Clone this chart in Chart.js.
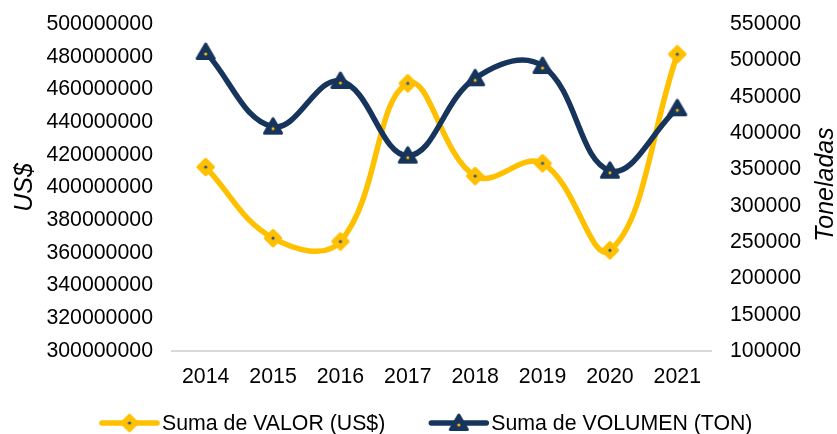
<!DOCTYPE html>
<html>
<head>
<meta charset="utf-8">
<script src="https://cdn.jsdelivr.net/npm/chart.js@4.4.1/dist/chart.umd.min.js"></script>
<style>
    html, body { margin: 0; padding: 0; background: #fff; }
</style>
</head>
<body>
<canvas id="chartCanvas" width="837" height="434"></canvas>
<script>
// -------------------------------------------------------------
// DATOS
// -------------------------------------------------------------
const years = ["2014", "2015", "2016", "2017", "2018", "2019", "2020", "2021"]
const valorUSD = [412500000, 369000000, 367000000, 463700000, 407000000, 414800000, 361600000, 481500000]
const volumenTon = [511500, 408700, 471600, 368800, 475300, 492200, 348100, 434000]

const labelValor = "Suma de VALOR (US$)"
const labelVolumen = "Suma de VOLUMEN (TON)"
const titleLeft = "US$"
const titleRight = "Toneladas"

// ejes: min, max y paso
const leftAxis = [300000000, 500000000, 20000000]
const rightAxis = [100000, 550000, 50000]

// -------------------------------------------------------------
// estilos
// -------------------------------------------------------------
const YELLOW = "#FFC000"
const NAVY = "#17355C"
const FONT = "'Liberation Sans', Arial, sans-serif"
const TICK_SIZE = 21.3

// marcador rombo amarillo con punto azul en el centro
function makeDiamond() {
    const c = document.createElement("canvas")
    c.width = 22; c.height = 22
    const g = c.getContext("2d")
    g.beginPath()
    g.moveTo(11, 3); g.lineTo(19, 11); g.lineTo(11, 19); g.lineTo(3, 11)
    g.closePath()
    g.fillStyle = YELLOW; g.fill()
    g.lineJoin = "round"; g.lineWidth = 2.5; g.strokeStyle = YELLOW; g.stroke()
    g.beginPath(); g.arc(11, 11, 1.6, 0, Math.PI * 2)
    g.fillStyle = "#2F4F8F"; g.fill()
    return c
}

// marcador triangulo azul con punto amarillo
function makeTriangle() {
    const c = document.createElement("canvas")
    c.width = 22; c.height = 22
    const g = c.getContext("2d")
    g.beginPath()
    g.moveTo(11, 3); g.lineTo(19.5, 17.5); g.lineTo(2.5, 17.5)
    g.closePath()
    g.fillStyle = NAVY; g.fill()
    g.lineJoin = "round"; g.lineWidth = 3; g.strokeStyle = NAVY; g.stroke()
    g.beginPath(); g.arc(11, 13, 1.5, 0, Math.PI * 2)
    g.fillStyle = YELLOW; g.fill()
    return c
}

const diamond = makeDiamond()
const triangle = makeTriangle()

// leyenda propia: linea + marcador + texto
const customLegend = {
    id: "customLegend",
    afterDraw(chart) {
        const ctx = chart.ctx
        const y = 423
        let x = 102
        ctx.save()
        ctx.font = TICK_SIZE + "px " + FONT
        ctx.textBaseline = "middle"
        ctx.fillStyle = "#000"
        chart.data.datasets.forEach(ds => {
            ctx.beginPath()
            ctx.moveTo(x, y); ctx.lineTo(x + 55, y)
            ctx.lineWidth = 5.5; ctx.lineCap = "round"
            ctx.strokeStyle = ds.borderColor
            ctx.stroke()
            const img = ds.pointStyle
            ctx.drawImage(img, x + 27.5 - img.width / 2, y - img.height / 2)
            ctx.fillText(ds.label, x + 60, y + 1)
            x += 60 + ctx.measureText(ds.label).width + 46
        })
        ctx.restore()
    }
}

// titulo del eje derecho, leido de abajo hacia arriba
const rightTitle = {
    id: "rightTitle",
    afterDraw(chart) {
        const ctx = chart.ctx
        const area = chart.chartArea
        ctx.save()
        ctx.translate(826, (area.top + area.bottom) / 2 - 3)
        ctx.rotate(-Math.PI / 2)
        ctx.font = "italic 25px " + FONT
        ctx.textAlign = "center"
        ctx.textBaseline = "middle"
        ctx.fillStyle = "#000"
        ctx.fillText(titleRight, 0, 0)
        ctx.restore()
    }
}

const ctx = document.getElementById("chartCanvas")
const myChart = new Chart(ctx, {
    type: "line",
    data: {
        labels: years,
        datasets: [
            {
                label: labelValor,
                data: valorUSD,
                yAxisID: "y",
                borderColor: YELLOW,
                backgroundColor: YELLOW,
                borderWidth: 5.5,
                borderCapStyle: "round",
                borderJoinStyle: "round",
                tension: 0.4,
                pointStyle: diamond,
                pointRadius: 9,
                order: 1
            },
            {
                label: labelVolumen,
                data: volumenTon,
                yAxisID: "y1",
                borderColor: NAVY,
                backgroundColor: NAVY,
                borderWidth: 5.5,
                borderCapStyle: "round",
                borderJoinStyle: "round",
                tension: 0.4,
                pointStyle: triangle,
                pointRadius: 9,
                order: 0
            }
        ]
    },
    options: {
        responsive: false,
        animation: false,
        layout: { padding: { top: 24, bottom: 38, left: 0, right: 0 } },
        plugins: {
            legend: { display: false },
            tooltip: { enabled: false }
        },
        scales: {
            x: {
                offset: true,
                grid: { display: false },
                border: { display: true, color: "#D9D9D9", width: 2 },
                ticks: { color: "#000", padding: 5.5, font: { family: FONT, size: TICK_SIZE } },
                afterFit: s => { s.height = 45 }
            },
            y: {
                position: "left",
                min: leftAxis[0], max: leftAxis[1],
                grid: { display: false },
                border: { display: false },
                ticks: {
                    stepSize: leftAxis[2], color: "#000", padding: 11,
                    font: { family: FONT, size: TICK_SIZE },
                    callback: v => String(v)
                },
                title: {
                    display: true, text: titleLeft, color: "#000",
                    padding: { top: 10, bottom: 0 },
                    font: { family: FONT, size: 25, style: "italic" }
                },
                afterFit: s => { s.width = 172 }
            },
            y1: {
                position: "right",
                min: rightAxis[0], max: rightAxis[1],
                grid: { display: false },
                border: { display: false },
                ticks: {
                    stepSize: rightAxis[2], color: "#000", padding: 11,
                    font: { family: FONT, size: TICK_SIZE },
                    callback: v => String(v)
                },
                afterFit: s => { s.width = 126 }
            }
        }
    },
    plugins: [customLegend, rightTitle]
})
</script>
</body>
</html>
